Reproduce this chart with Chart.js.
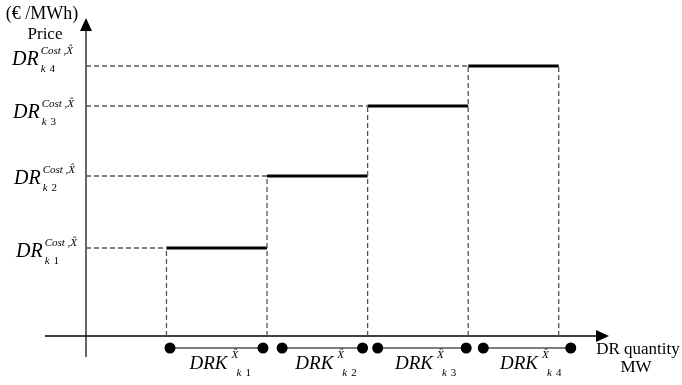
<!DOCTYPE html>
<html>
<head>
<meta charset="utf-8">
<script src="https://cdn.jsdelivr.net/npm/chart.js@4/dist/chart.umd.min.js"></script>
<style>
  html, body { margin: 0; padding: 0; background: #fff; }
  #wrap { width: 682px; height: 385px; position: relative; }
</style>
</head>
<body>
<div id="wrap"><canvas id="c"></canvas></div>
<script>
// Block boundaries along the quantity axis (MW) and the price of each block (€/MWh)
const stepQty = [8, 18, 28, 38, 47];
const stepPrice = [22, 40, 57.5, 67.5];
// Quantity bands DRK drawn under the axis: start and end of each band
const bandStart = [8.35, 19.5, 29.0, 39.5];
const bandEnd = [17.6, 27.5, 37.8, 48.2];
const bandLevel = -3;
// Block indices used in the labels
const blockIndex = ['1', '2', '3', '4'];

const SERIF = '"Liberation Serif", "Times New Roman", serif';

const datasets = [];
// horizontal dashed guides from the price axis to each block
stepPrice.forEach((p, i) => {
  datasets.push({
    data: [{x: 0, y: p}, {x: stepQty[i], y: p}],
    borderColor: '#555', borderWidth: 1.3, borderDash: [5, 3]
  });
});
// vertical dashed guides at each block boundary
stepQty.forEach((q, i) => {
  const top = Math.max(i > 0 ? stepPrice[i - 1] : 0, i < stepPrice.length ? stepPrice[i] : 0);
  datasets.push({
    data: [{x: q, y: 0}, {x: q, y: top}],
    borderColor: '#555', borderWidth: 1.3, borderDash: [5, 3]
  });
});
// the price steps
stepPrice.forEach((p, i) => {
  datasets.push({
    data: [{x: stepQty[i], y: p}, {x: stepQty[i + 1], y: p}],
    borderColor: '#000', borderWidth: 2.8
  });
});
// quantity bands with end dots
bandStart.forEach((s, i) => {
  datasets.push({
    data: [{x: s, y: bandLevel}, {x: bandEnd[i], y: bandLevel}],
    borderColor: '#000', borderWidth: 1.2,
    pointRadius: 5.5, pointBackgroundColor: '#000', pointBorderWidth: 0
  });
});
datasets.forEach(d => {
  d.showLine = true;
  d.fill = false;
  d.clip = false;
  if (d.pointRadius === undefined) d.pointRadius = 0;
});

// offsets of the price labels' baselines relative to their level
const priceLabelDy = [9, 8, 12, -1];
const priceLabelX = [16, 14, 13, 12];

function drawIndexed(ctx, x, base, main, mainSize, sup, supDx, subDx, idx) {
  ctx.textBaseline = 'alphabetic';
  ctx.textAlign = 'left';
  ctx.fillStyle = '#000';
  ctx.font = 'italic ' + mainSize + 'px ' + SERIF;
  ctx.fillText(main, x, base);
  const w = ctx.measureText(main).width;
  // superscript
  ctx.font = 'italic 11px ' + SERIF;
  ctx.fillText(sup, x + w + supDx, base - 11);
  // subscript: italic k, upright index
  const kx = x + w + subDx;
  ctx.fillText('k', kx, base + 7);
  const kw = ctx.measureText('k').width;
  ctx.font = '11px ' + SERIF;
  ctx.fillText(idx, kx + kw + 4, base + 7);
}

const diagram = {
  id: 'diagram',
  beforeDatasetsDraw(chart) {
    const ctx = chart.ctx;
    const xs = chart.scales.x, ys = chart.scales.y;
    const x0 = xs.getPixelForValue(0), y0 = ys.getPixelForValue(0);
    const yTop = ys.top, yBot = ys.bottom, xEnd = xs.right;
    ctx.save();
    // price axis
    ctx.strokeStyle = '#333';
    ctx.lineWidth = 1.5;
    ctx.beginPath();
    ctx.moveTo(x0, yBot);
    ctx.lineTo(x0, yTop + 10);
    ctx.stroke();
    ctx.fillStyle = '#000';
    ctx.beginPath();
    ctx.moveTo(x0, yTop);
    ctx.lineTo(x0 - 6, yTop + 13);
    ctx.lineTo(x0 + 6, yTop + 13);
    ctx.closePath();
    ctx.fill();
    // quantity axis
    ctx.strokeStyle = '#000';
    ctx.beginPath();
    ctx.moveTo(45, y0);
    ctx.lineTo(xEnd - 10, y0);
    ctx.stroke();
    ctx.beginPath();
    ctx.moveTo(xEnd, y0);
    ctx.lineTo(xEnd - 13, y0 - 6);
    ctx.lineTo(xEnd - 13, y0 + 6);
    ctx.closePath();
    ctx.fill();
    ctx.restore();
  },
  afterDraw(chart) {
    const ctx = chart.ctx;
    const xs = chart.scales.x, ys = chart.scales.y;
    ctx.save();
    ctx.fillStyle = '#000';
    // axis titles
    ctx.textAlign = 'center';
    ctx.textBaseline = 'alphabetic';
    ctx.font = '18px ' + SERIF;
    ctx.fillText('(€ /MWh)', 42, 19);
    ctx.font = '17px ' + SERIF;
    ctx.fillText('Price', 45, 39);
    ctx.fillText('DR quantity', 638, 354);
    ctx.fillText('MW', 636, 372);
    // price labels
    stepPrice.forEach((p, i) => {
      const base = ys.getPixelForValue(p) + priceLabelDy[i];
      drawIndexed(ctx, priceLabelX[i], base, 'DR', 20, 'Cost ,X\u0302', 2, 2, blockIndex[i]);
    });
    // quantity labels
    bandStart.forEach((s, i) => {
      const mid = (xs.getPixelForValue(s) + xs.getPixelForValue(bandEnd[i])) / 2;
      const base = ys.getPixelForValue(bandLevel) + 21;
      drawIndexed(ctx, mid - 27, base, 'DRK', 19, 'X\u0302', 4, 9, blockIndex[i]);
    });
    ctx.restore();
  }
};

new Chart(document.getElementById('c'), {
  type: 'scatter',
  data: { datasets },
  options: {
    responsive: true,
    maintainAspectRatio: false,
    animation: false,
    layout: { padding: { left: 86, right: 73, top: 18, bottom: 28 } },
    scales: {
      x: { type: 'linear', min: 0, max: 52, display: false },
      y: { type: 'linear', min: -5.25, max: 79.5, display: false }
    },
    plugins: { legend: { display: false }, tooltip: { enabled: false } },
    elements: { line: { tension: 0 } }
  },
  plugins: [diagram]
});
</script>
</body>
</html>
